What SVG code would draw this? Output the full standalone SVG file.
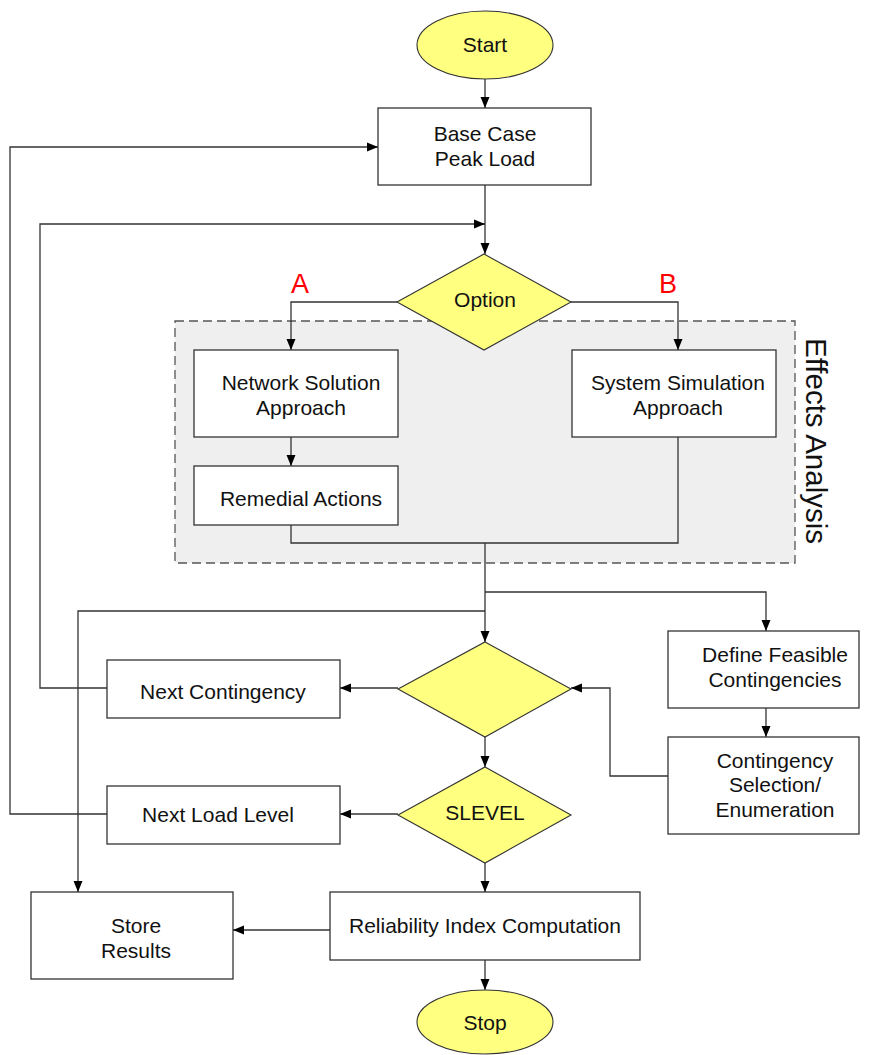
<svg xmlns="http://www.w3.org/2000/svg" width="872" height="1055" viewBox="0 0 872 1055">
<style>
text{font-family:"Liberation Sans",Arial,sans-serif;font-size:21px;fill:#111;text-anchor:middle}
.box{fill:#fff;stroke:#333;stroke-width:1.3}
.yel{fill:#ffff80;stroke:#333;stroke-width:1.1}
.ln{fill:none;stroke:#333;stroke-width:1.3}
.red{fill:#ff0000;font-size:27px}
</style>
<defs>
<marker id="ah" markerUnits="userSpaceOnUse" markerWidth="12" markerHeight="12" viewBox="0 0 12 12" refX="11" refY="6" orient="auto">
<path d="M0,1.5 L11,6 L0,10.5 Z" fill="#000"/>
</marker>
</defs>
<rect width="872" height="1055" fill="#fff"/>
<g id="effects-analysis">
<rect x="175" y="321" width="620" height="242" fill="#efefef" stroke="#555" stroke-width="1.3" stroke-dasharray="9,5"/>
<text transform="translate(806,441) rotate(90)" style="font-size:29.5px">Effects Analysis</text>
</g>
<g id="connectors">
<path class="ln" d="M485,79 V108" marker-end="url(#ah)"/>
<path class="ln" d="M485,185 V254" marker-end="url(#ah)"/>
<path class="ln" d="M107,814 H10 V147 H378" marker-end="url(#ah)"/>
<path class="ln" d="M107,688 H40 V224 H485" marker-end="url(#ah)"/>
<path class="ln" d="M397,302 H291 V350" marker-end="url(#ah)"/>
<path class="ln" d="M571,302 H678 V350" marker-end="url(#ah)"/>
<path class="ln" d="M291,437 V466" marker-end="url(#ah)"/>
<path class="ln" d="M291,525 V543 H678 V437"/>
<path class="ln" d="M485,543 V642" marker-end="url(#ah)"/>
<path class="ln" d="M485,592 H766 V631" marker-end="url(#ah)"/>
<path class="ln" d="M485,611 H78 V892" marker-end="url(#ah)"/>
<path class="ln" d="M766,708 V737" marker-end="url(#ah)"/>
<path class="ln" d="M668,776 H610 V688 H571" marker-end="url(#ah)"/>
<path class="ln" d="M398,688 H340" marker-end="url(#ah)"/>
<path class="ln" d="M485,737 V767" marker-end="url(#ah)"/>
<path class="ln" d="M398,814 H340" marker-end="url(#ah)"/>
<path class="ln" d="M485,863 V892" marker-end="url(#ah)"/>
<path class="ln" d="M330,930 H233" marker-end="url(#ah)"/>
<path class="ln" d="M485,960 V990" marker-end="url(#ah)"/>
<text class="red" x="300" y="293">A</text>
<text class="red" x="668" y="293">B</text>
</g>
<g id="start">
<ellipse class="yel" cx="485" cy="45" rx="68" ry="34"/>
<text x="485" y="52">Start</text>
</g>
<g id="base-case">
<rect class="box" x="378" y="108" width="213" height="77"/>
<text x="485" y="141">Base Case</text>
<text x="485" y="166">Peak Load</text>
</g>
<g id="option">
<polygon class="yel" points="484,254 571,302 484,350 397,302"/>
<text x="485" y="307">Option</text>
</g>
<g id="network-solution">
<rect class="box" x="194" y="350" width="204" height="87"/>
<text x="301" y="390">Network Solution</text>
<text x="301" y="415">Approach</text>
</g>
<g id="system-simulation">
<rect class="box" x="572" y="350" width="204" height="87"/>
<text x="678" y="390">System Simulation</text>
<text x="678" y="415">Approach</text>
</g>
<g id="remedial-actions">
<rect class="box" x="194" y="466" width="204" height="59"/>
<text x="301" y="506">Remedial Actions</text>
</g>
<g id="decision">
<polygon class="yel" points="485,642 571,689 485,737 398,689"/>
</g>
<g id="define-feasible">
<rect class="box" x="668" y="631" width="191" height="77"/>
<text x="775" y="662">Define Feasible</text>
<text x="775" y="687">Contingencies</text>
</g>
<g id="contingency-selection">
<rect class="box" x="668" y="737" width="191" height="97"/>
<text x="775" y="768">Contingency</text>
<text x="775" y="792">Selection/</text>
<text x="775" y="817">Enumeration</text>
</g>
<g id="next-contingency">
<rect class="box" x="107" y="660" width="233" height="58"/>
<text x="223" y="699">Next Contingency</text>
</g>
<g id="slevel">
<polygon class="yel" points="485,767 571,815 485,863 398,815"/>
<text x="485" y="820">SLEVEL</text>
</g>
<g id="next-load-level">
<rect class="box" x="107" y="786" width="233" height="58"/>
<text x="218" y="822">Next Load Level</text>
</g>
<g id="reliability">
<rect class="box" x="330" y="892" width="310" height="68"/>
<text x="485" y="933">Reliability Index Computation</text>
</g>
<g id="store-results">
<rect class="box" x="31" y="892" width="202" height="87"/>
<text x="136" y="933">Store</text>
<text x="136" y="958">Results</text>
</g>
<g id="stop">
<ellipse class="yel" cx="485" cy="1022" rx="68" ry="32"/>
<text x="485" y="1030">Stop</text>
</g>
</svg>
